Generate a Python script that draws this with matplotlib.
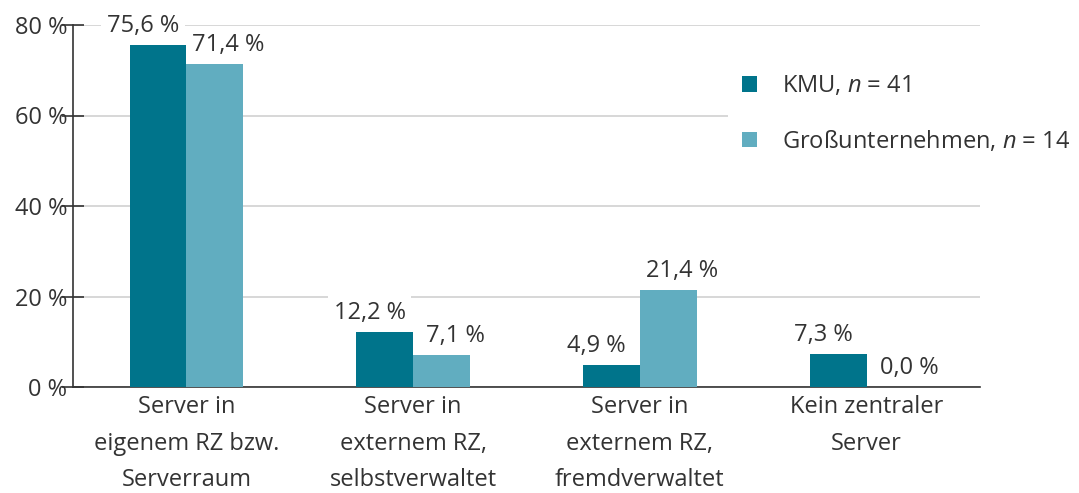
import matplotlib
matplotlib.use("Agg")
import matplotlib.pyplot as plt
import numpy as np

categories = [
    "Server in\neigenem RZ bzw.\nServerraum",
    "Server in\nexternem RZ,\nselbstverwaltet",
    "Server in\nexternem RZ,\nfremdverwaltet",
    "Kein zentraler\nServer",
]
kmu = [75.6, 12.2, 4.9, 7.3]
gross = [71.4, 7.1, 21.4, 0.0]
series_labels = ["KMU, $n$ = 41", "Großunternehmen, $n$ = 14"]
yticks = [0, 20, 40, 60, 80]

DARK = "#00748b"
LIGHT = "#61adc0"
TEXT = "#333333"

plt.rcParams["font.family"] = ["Open Sans", "DejaVu Sans"]
plt.rcParams["mathtext.fontset"] = "custom"
plt.rcParams["mathtext.rm"] = "Open Sans"
plt.rcParams["mathtext.it"] = "Open Sans:italic"
plt.rcParams["text.color"] = TEXT
FS = 17


def fmt(v):
    return f"{v:.1f}".replace(".", ",") + " %"


fig = plt.figure(figsize=(10.79, 4.93), dpi=100)
ax = fig.add_axes([73 / 1079, 1 - 387 / 493, 907 / 1079, 362 / 493])

x = np.arange(len(categories))
w = 0.25
b1 = ax.bar(x - w / 2, kmu, w, color=DARK, label=series_labels[0], zorder=3)
b2 = ax.bar(x + w / 2, gross, w, color=LIGHT, label=series_labels[1], zorder=3)

box = dict(facecolor="white", edgecolor="none", pad=4)
for bars, vals, dx in [(b1, kmu, -11), (b2, gross, 10)]:
    for rect, v in zip(bars, vals):
        ax.annotate(fmt(v), (rect.get_x() + rect.get_width() / 2, v),
                    xytext=(dx, 5), textcoords="offset points",
                    ha="center", va="bottom", fontsize=FS, color=TEXT,
                    bbox=box, zorder=4)

ax.set_xlim(-0.5, 3.5)
ax.set_ylim(0, 80)
ax.set_yticks(yticks)
ax.set_yticklabels([f"{t} %" for t in yticks], fontsize=FS, color=TEXT)
ax.set_xticks(x)
ax.set_xticklabels(categories, fontsize=FS, color=TEXT, linespacing=1.68)
ax.tick_params(axis="x", length=0, pad=6)
ax.tick_params(axis="y", direction="inout", length=16, width=1.2, color=TEXT, pad=-4)

ax.grid(axis="y", color="#d4d4d4", linewidth=1.3, zorder=0)
ax.set_axisbelow(True)
for s in ["top", "right"]:
    ax.spines[s].set_visible(False)
for s in ["left", "bottom"]:
    ax.spines[s].set_color(TEXT)
    ax.spines[s].set_linewidth(1.2)
ax.spines["left"].set_zorder(5)

leg = ax.legend(loc="upper left", bbox_to_anchor=(728 / 1079, 1 - 60 / 493),
                bbox_transform=fig.transFigure, fontsize=FS, frameon=True,
                fancybox=False, edgecolor="none", facecolor="white", framealpha=1,
                handlelength=0.62, handleheight=0.62, handletextpad=1.05,
                labelspacing=1.3, borderpad=0.6, borderaxespad=0)
leg.set_zorder(6)

fig.savefig("out.png", dpi=100)
